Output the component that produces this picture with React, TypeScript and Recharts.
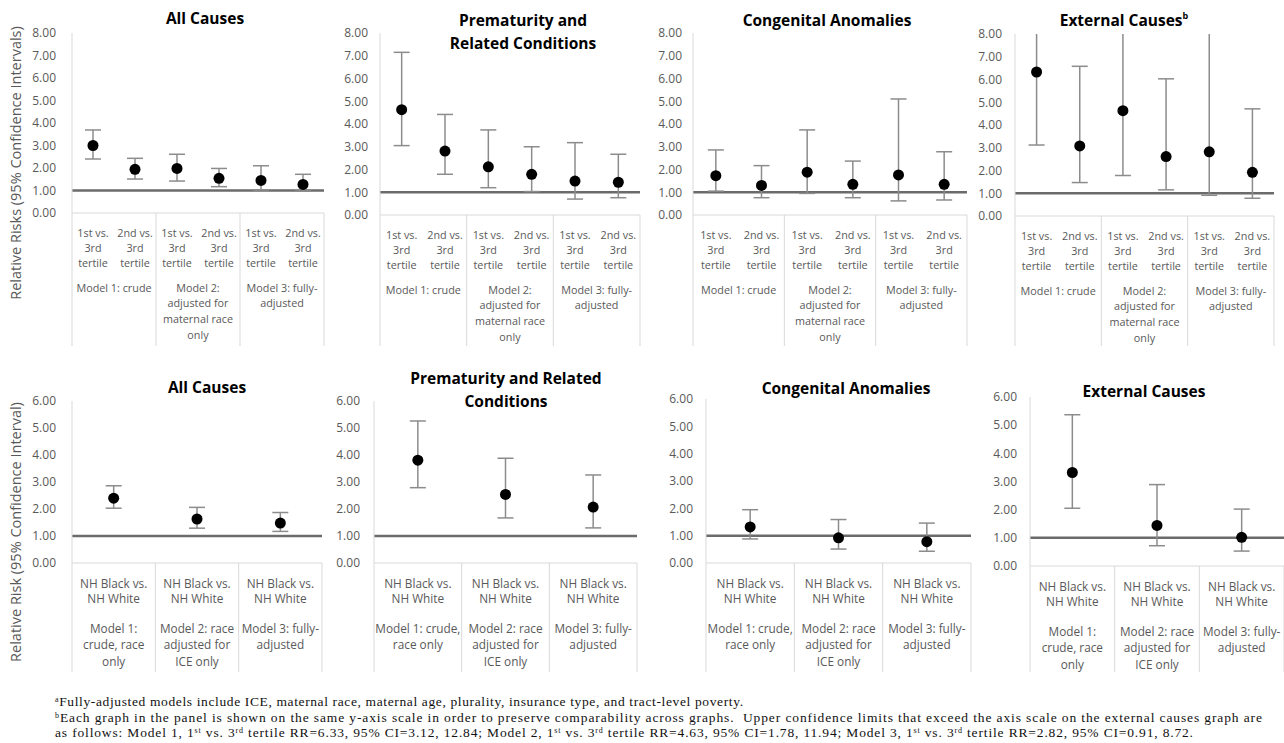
import * as React from 'react';
import { ScatterChart, Scatter, XAxis, YAxis, ErrorBar, ReferenceLine } from 'recharts';

// ---- categories / labels ----
const tertileCategories = [
  ['1st vs.', '3rd', 'tertile'],
  ['2nd vs.', '3rd', 'tertile'],
  ['1st vs.', '3rd', 'tertile'],
  ['2nd vs.', '3rd', 'tertile'],
  ['1st vs.', '3rd', 'tertile'],
  ['2nd vs.', '3rd', 'tertile'],
];
const tertileModels = [
  ['Model 1: crude'],
  ['Model 2:', 'adjusted for', 'maternal race', 'only'],
  ['Model 3: fully-', 'adjusted'],
];
const raceCategories = [
  ['NH Black vs.', 'NH White'],
  ['NH Black vs.', 'NH White'],
  ['NH Black vs.', 'NH White'],
];
const raceModelsNarrow = [
  ['Model 1:', 'crude, race', 'only'],
  ['Model 2: race', 'adjusted for', 'ICE only'],
  ['Model 3: fully-', 'adjusted'],
];
const raceModelsWide = [
  ['Model 1: crude,', 'race only'],
  ['Model 2: race', 'adjusted for', 'ICE only'],
  ['Model 3: fully-', 'adjusted'],
];

const topYTicks = [0, 1, 2, 3, 4, 5, 6, 7, 8];
const bottomYTicks = [0, 1, 2, 3, 4, 5, 6];

// ---- ICE tertile models (top row) ----
const allCausesTertileRR = [3.0, 1.94, 1.98, 1.54, 1.45, 1.27];
const allCausesTertileLo = [2.4, 1.51, 1.42, 1.17, 1.02, 0.98];
const allCausesTertileHi = [3.69, 2.43, 2.61, 1.98, 2.1, 1.72];

const prematurityTertileRR = [4.63, 2.81, 2.12, 1.79, 1.49, 1.44];
const prematurityTertileLo = [3.05, 1.79, 1.2, 1.03, 0.7, 0.76];
const prematurityTertileHi = [7.15, 4.42, 3.74, 3.0, 3.18, 2.67];

const congenitalTertileRR = [1.73, 1.3, 1.88, 1.35, 1.76, 1.35];
const congenitalTertileLo = [1.05, 0.76, 0.95, 0.76, 0.62, 0.66];
const congenitalTertileHi = [2.86, 2.17, 3.74, 2.37, 5.1, 2.78];

const externalTertileRR = [6.33, 3.08, 4.63, 2.61, 2.82, 1.92];
const externalTertileLo = [3.12, 1.47, 1.78, 1.15, 0.91, 0.78];
const externalTertileHi = [12.84, 6.58, 11.94, 6.03, 8.72, 4.71];

// ---- race models (bottom row) ----
const allCausesRaceRR = [2.4, 1.63, 1.48];
const allCausesRaceLo = [2.03, 1.29, 1.17];
const allCausesRaceHi = [2.86, 2.06, 1.87];

const prematurityRaceRR = [3.81, 2.54, 2.07];
const prematurityRaceLo = [2.79, 1.67, 1.3];
const prematurityRaceHi = [5.26, 3.88, 3.26];

const congenitalRaceRR = [1.32, 0.92, 0.78];
const congenitalRaceLo = [0.88, 0.51, 0.43];
const congenitalRaceHi = [1.95, 1.59, 1.46];

const externalRaceRR = [3.32, 1.44, 1.02];
const externalRaceLo = [2.05, 0.72, 0.53];
const externalRaceHi = [5.37, 2.89, 2.02];

const FONT = '"Open Sans", sans-serif';
const SERIF = '"Liberation Serif", serif';
const GRID = '#d9d9d9';
const LABEL = '#595959';

type Row = {
  top: number;
  bottom: number;
  tableBottom: number;
  yTicks: number[];
  catFont: number;
  catLineYs: number[];
  groupLineYs: number[];
};

const topRow: Row = {
  top: 0,
  bottom: 350,
  tableBottom: 346,
  yTicks: topYTicks,
  catFont: 10.8,
  catLineYs: [19, 34, 49],
  groupLineYs: [74, 89, 105, 121],
};
const bottomRow: Row = {
  top: 360,
  bottom: 680,
  tableBottom: 672,
  yTicks: bottomYTicks,
  catFont: 11.8,
  catLineYs: [20, 35],
  groupLineYs: [65, 81, 98],
};

type PanelCfg = {
  row: Row;
  boxLeft: number;
  boxRight: number;
  plotLeft: number;
  plotRight: number;
  plotTop: number;
  plotBottom: number;
  labelRight: number;
  categories: string[][];
  groups: string[][];
  rr: number[];
  lo: number[];
  hi: number[];
};

const panels: PanelCfg[] = [
  { row: topRow, boxLeft: 25, boxRight: 333, plotLeft: 72, plotRight: 324, plotTop: 33, plotBottom: 213, labelRight: 56,
    categories: tertileCategories, groups: tertileModels, rr: allCausesTertileRR, lo: allCausesTertileLo, hi: allCausesTertileHi },
  { row: topRow, boxLeft: 335, boxRight: 645, plotLeft: 380, plotRight: 640, plotTop: 33, plotBottom: 215, labelRight: 368,
    categories: tertileCategories, groups: tertileModels, rr: prematurityTertileRR, lo: prematurityTertileLo, hi: prematurityTertileHi },
  { row: topRow, boxLeft: 648, boxRight: 972, plotLeft: 693, plotRight: 967, plotTop: 33, plotBottom: 215, labelRight: 682,
    categories: tertileCategories, groups: tertileModels, rr: congenitalTertileRR, lo: congenitalTertileLo, hi: congenitalTertileHi },
  { row: topRow, boxLeft: 972, boxRight: 1284, plotLeft: 1015, plotRight: 1274, plotTop: 34, plotBottom: 216, labelRight: 1002,
    categories: tertileCategories, groups: tertileModels, rr: externalTertileRR, lo: externalTertileLo, hi: externalTertileHi },
  { row: bottomRow, boxLeft: 25, boxRight: 330, plotLeft: 72, plotRight: 322, plotTop: 401, plotBottom: 563, labelRight: 56,
    categories: raceCategories, groups: raceModelsNarrow, rr: allCausesRaceRR, lo: allCausesRaceLo, hi: allCausesRaceHi },
  { row: bottomRow, boxLeft: 330, boxRight: 642, plotLeft: 374, plotRight: 637, plotTop: 401, plotBottom: 563, labelRight: 360,
    categories: raceCategories, groups: raceModelsWide, rr: prematurityRaceRR, lo: prematurityRaceLo, hi: prematurityRaceHi },
  { row: bottomRow, boxLeft: 645, boxRight: 975, plotLeft: 706, plotRight: 971, plotTop: 399, plotBottom: 563, labelRight: 693,
    categories: raceCategories, groups: raceModelsWide, rr: congenitalRaceRR, lo: congenitalRaceLo, hi: congenitalRaceHi },
  { row: bottomRow, boxLeft: 978, boxRight: 1284, plotLeft: 1030, plotRight: 1284, plotTop: 397, plotBottom: 566, labelRight: 1017,
    categories: raceCategories, groups: raceModelsNarrow, rr: externalRaceRR, lo: externalRaceLo, hi: externalRaceHi },
];

const titles = [
  { lines: ['All Causes'], x: 205, y: 18 },
  { lines: ['Prematurity and', 'Related Conditions'], x: 523, y: 20 },
  { lines: ['Congenital Anomalies'], x: 827, y: 20 },
  { lines: ['External Causes'], x: 1124, y: 20, sup: 'b' },
  { lines: ['All Causes'], x: 207, y: 387 },
  { lines: ['Prematurity and Related', 'Conditions'], x: 506, y: 378 },
  { lines: ['Congenital Anomalies'], x: 846, y: 388 },
  { lines: ['External Causes'], x: 1144, y: 391 },
];

function Panel({ cfg, id }: { cfg: PanelCfg; id: string }) {
  const { row } = cfg;
  const n = cfg.rr.length;
  const perGroup = n / cfg.groups.length;
  const width = cfg.boxRight - cfg.boxLeft;
  const height = row.bottom - row.top;
  const band = (cfg.plotRight - cfg.plotLeft) / n;
  const plotTop = cfg.plotTop - row.top;
  const axisY = cfg.plotBottom - row.top;
  const tableBottom = row.tableBottom - row.top;
  const yMax = row.yTicks[row.yTicks.length - 1];

  const data = cfg.rr.map((v, i) => ({
    x: i + 0.5,
    rr: v,
    err: [v - cfg.lo[i], cfg.hi[i] - v],
  }));

  const renderTick = (props: any) => {
    const { x, payload } = props;
    const idx = Math.floor(payload.value);
    const xl = x - band / 2;
    const isGroupStart = idx % perGroup === 0;
    const group = cfg.groups[Math.floor(idx / perGroup)];
    const groupCenter = xl + (perGroup * band) / 2;
    return (
      <g>
        {isGroupStart ? (
          <line x1={xl} y1={axisY} x2={xl} y2={tableBottom} stroke={GRID} strokeWidth={1} />
        ) : null}
        {idx === n - 1 ? (
          <line x1={xl + band} y1={axisY} x2={xl + band} y2={tableBottom} stroke={GRID} strokeWidth={1} />
        ) : null}
        {cfg.categories[idx].map((t, k) => (
          <text key={k} x={x} y={axisY + row.catLineYs[k]} textAnchor="middle" dominantBaseline="central"
            fill={LABEL} fontSize={row.catFont} fontFamily={FONT}>
            {t}
          </text>
        ))}
        {isGroupStart
          ? group.map((t, k) => (
              <text key={'g' + k} x={groupCenter} y={axisY + row.groupLineYs[k]} textAnchor="middle"
                dominantBaseline="central" fill={LABEL} fontSize={row.catFont} fontFamily={FONT}>
                {t}
              </text>
            ))
          : null}
      </g>
    );
  };

  return (
    <div style={{ position: 'absolute', left: cfg.boxLeft, top: row.top, width, height }}>
      {/* clip for whiskers that run past the top of the axis */}
      <svg width={0} height={0} style={{ position: 'absolute' }}>
        <defs>
          <clipPath id={id}>
            <rect x={0} y={plotTop} width={width} height={height - plotTop} />
          </clipPath>
        </defs>
      </svg>
      <ScatterChart
        width={width}
        height={height}
        margin={{ top: plotTop, right: cfg.boxRight - cfg.plotRight, bottom: 0, left: 0 }}
      >
        <XAxis
          type="number"
          dataKey="x"
          domain={[0, n]}
          ticks={data.map((d) => d.x)}
          interval={0}
          height={row.bottom - cfg.plotBottom}
          axisLine={{ stroke: GRID }}
          tickLine={false}
          tick={renderTick}
        />
        <YAxis
          type="number"
          dataKey="rr"
          domain={[0, yMax]}
          ticks={row.yTicks}
          allowDataOverflow
          width={cfg.plotLeft - cfg.boxLeft}
          axisLine={{ stroke: GRID }}
          tickLine={false}
          tickSize={0}
          tickMargin={cfg.plotLeft - cfg.labelRight}
          tickFormatter={(v: number) => v.toFixed(2)}
          tick={{ fill: LABEL, fontSize: 12, fontFamily: FONT }}
        />
        <ReferenceLine y={1} stroke="#6b6b6b" strokeWidth={2.5} />
        <Scatter
          data={data}
          isAnimationActive={false}
          shape={(p: any) => <circle cx={p.cx} cy={p.cy} r={5.5} fill="#000" />}
        >
          <ErrorBar dataKey="err" direction="y" width={8} stroke="#8c8c8c" strokeWidth={1.5}
            clipPath={`url(#${id})`} />
        </Scatter>
      </ScatterChart>
    </div>
  );
}

const SUP = { fontSize: 8, baselineShift: 'super' } as const;

export default function App() {
  return (
    <div style={{ position: 'absolute', left: 0, top: 0, width: 1284, height: 743, background: '#fff', overflow: 'hidden' }}>
      {panels.map((p, i) => (
        <Panel key={i} cfg={p} id={`whisker-clip-${i}`} />
      ))}
      <svg width={1284} height={743} style={{ position: 'absolute', left: 0, top: 0, pointerEvents: 'none' }}>
        {titles.map((t, i) =>
          t.lines.map((line, k) => (
            <text key={i + '-' + k} x={t.x} y={t.y + k * 23} textAnchor="middle" dominantBaseline="central"
              fontFamily={FONT} fontSize={15.5} fontWeight={700} fill="#000">
              {line}
              {t.sup && k === t.lines.length - 1 ? (
                <tspan fontSize={9} dy={-5}>{t.sup}</tspan>
              ) : null}
            </text>
          ))
        )}
        <text x={15} y={163} transform="rotate(-90 15 163)" textAnchor="middle" dominantBaseline="central"
          fontFamily={FONT} fontSize={14.5} fill={LABEL}>
          Relative Risks (95% Confidence Intervals)
        </text>
        <text x={15} y={532} transform="rotate(-90 15 532)" textAnchor="middle" dominantBaseline="central"
          fontFamily={FONT} fontSize={14.5} fill={LABEL}>
          Relative Risk (95% Confidence Interval)
        </text>

        {/* footnotes */}
        <text x={55} y={706} fontFamily={SERIF} fontSize={13.5} fill="#111" textLength={688} lengthAdjust="spacing">
          <tspan style={SUP}>a</tspan>Fully-adjusted models include ICE, maternal race, maternal age, plurality, insurance type, and tract-level poverty.
        </text>
        <text x={55} y={722} fontFamily={SERIF} fontSize={13.5} fill="#111" textLength={1207} lengthAdjust="spacing">
          <tspan style={SUP}>b</tspan>Each graph in the panel is shown on the same y-axis scale in order to preserve comparability across graphs.{'\u00a0 '}Upper confidence limits that exceed the axis scale on the external causes graph are
        </text>
        <text x={55} y={737} fontFamily={SERIF} fontSize={13.5} fill="#111" textLength={1138} lengthAdjust="spacing">
          as follows: Model 1, 1<tspan style={SUP}>st</tspan> vs. 3<tspan style={SUP}>rd</tspan> tertile RR=6.33, 95% CI=3.12, 12.84; Model 2, 1<tspan style={SUP}>st</tspan> vs. 3<tspan style={SUP}>rd</tspan> tertile RR=4.63, 95% CI=1.78, 11.94; Model 3, 1<tspan style={SUP}>st</tspan> vs. 3<tspan style={SUP}>rd</tspan> tertile RR=2.82, 95% CI=0.91, 8.72.
        </text>
      </svg>
    </div>
  );
}
